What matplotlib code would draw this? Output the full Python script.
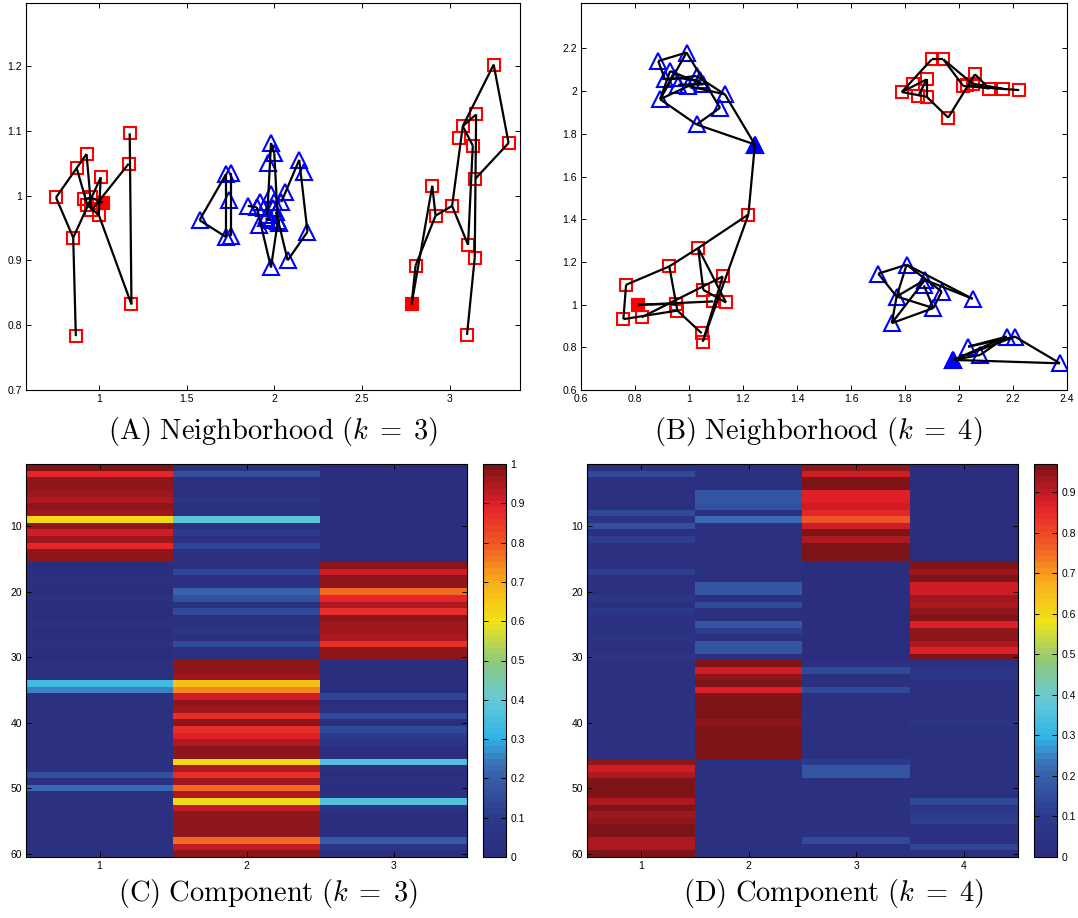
import matplotlib
matplotlib.use("Agg")
import matplotlib.pyplot as plt
import numpy as np
from matplotlib.colors import LinearSegmentedColormap, ListedColormap

plt.rcParams["mathtext.fontset"] = "cm"
plt.rcParams["font.family"] = ["Liberation Sans", "DejaVu Sans"]

#---------------------------
# Grafo de vizinhanca, k = 3
#---------------------------
a_esq_x = [0.756, 0.873, 0.930, 0.854, 0.869, 1.011, 1.176, 1.170, 1.186, 0.915,
           0.955, 0.958, 1.000, 1.023, 0.935]
a_esq_y = [0.997, 1.043, 1.064, 0.935, 0.783, 1.028, 1.096, 1.049, 0.832, 0.994,
           0.997, 0.977, 0.970, 0.989, 0.985]
a_centro_x = [1.574, 1.725, 1.754, 1.744, 1.725, 1.754, 1.849, 1.981, 1.962, 2.000,
              2.142, 2.170, 2.189, 2.076, 1.981, 2.063, 1.915, 2.028, 1.900, 1.920,
              1.980, 2.000, 1.960, 2.040, 2.020, 1.950, 1.980, 1.990, 1.940, 2.010]
a_centro_y = [0.962, 1.033, 1.034, 0.993, 0.936, 0.938, 0.984, 1.081, 1.050, 1.065,
              1.055, 1.037, 0.944, 0.900, 0.889, 1.006, 0.954, 0.957, 0.982, 0.990,
              1.003, 0.990, 0.970, 0.990, 0.960, 0.965, 0.962, 0.980, 0.980, 0.975]
a_dir_x = [3.250, 3.150, 3.074, 3.055, 3.131, 3.335, 3.146, 2.900, 3.013, 2.919,
           3.104, 3.142, 2.805, 2.782, 3.098]
a_dir_y = [1.202, 1.125, 1.107, 1.089, 1.077, 1.081, 1.026, 1.015, 0.984, 0.969,
           0.924, 0.904, 0.892, 0.832, 0.785]
a_arestas = [(4, 3), (3, 0), (0, 2), (2, 11), (1, 14), (14, 12), (3, 5), (5, 12),
             (12, 8), (8, 6), (11, 7), (9, 10), (10, 13),
             (15, 16), (15, 19), (16, 19), (17, 20), (21, 33), (33, 29), (29, 39),
             (37, 22), (22, 24), (24, 39), (38, 25), (25, 27), (27, 28), (28, 44),
             (40, 41), (32, 44),
             (58, 52), (58, 57), (57, 54), (54, 53), (53, 55), (53, 47), (47, 46),
             (46, 56), (56, 59), (47, 49), (49, 55), (45, 47), (45, 50), (50, 51),
             (52, 54)]
a_cheios = [13, 58]

#---------------------------
# Grafo de vizinhanca, k = 4
#---------------------------
b_azul1_x = [0.886, 0.991, 0.930, 0.911, 0.948, 1.028, 0.997, 1.053, 1.040, 1.133,
             1.115, 0.893, 1.028, 1.244, 0.960]
b_azul1_y = [2.141, 2.181, 2.094, 2.055, 2.063, 2.071, 2.024, 2.032, 2.050, 1.985,
             1.922, 1.962, 1.844, 1.750, 2.030]
b_verm1_x = [1.220, 1.034, 0.927, 0.767, 0.812, 0.757, 0.825, 0.952, 0.957, 1.053,
             1.125, 1.090, 1.137, 1.047, 1.051]
b_verm1_y = [1.422, 1.265, 1.179, 1.093, 0.999, 0.932, 0.941, 1.004, 0.972, 1.069,
             1.132, 1.015, 1.010, 0.866, 0.827]
b_verm2_x = [1.899, 1.942, 1.831, 1.880, 1.788, 1.849, 1.880, 1.960, 2.016, 2.059,
             2.050, 2.112, 2.162, 2.223, 2.030]
b_verm2_y = [2.149, 2.149, 2.032, 2.055, 1.996, 1.977, 1.974, 1.876, 2.024, 2.079,
             2.035, 2.012, 2.012, 2.005, 2.030]
b_azul2_x = [1.701, 1.806, 1.874, 1.936, 1.769, 1.905, 1.751, 2.051, 1.870, 1.979,
             2.034, 2.078, 2.177, 2.207, 2.374]
b_azul2_y = [1.145, 1.187, 1.116, 1.061, 1.038, 0.984, 0.913, 1.027, 1.090, 0.741,
             0.803, 0.764, 0.850, 0.850, 0.725]
b_arestas = [(0, 1), (0, 3), (1, 11), (11, 2), (2, 7), (11, 6), (6, 9), (1, 10),
             (9, 13), (11, 12), (12, 10), (12, 13), (3, 5), (5, 9), (4, 8), (14, 7),
             (13, 15),
             (15, 16), (16, 17), (17, 18), (15, 29), (16, 24), (16, 27), (17, 23),
             (23, 28), (18, 20), (20, 23), (19, 26), (21, 25), (25, 29), (24, 27),
             (19, 22),
             (30, 31), (30, 34), (34, 33), (34, 36), (33, 36), (35, 33), (31, 40),
             (31, 38), (36, 37), (37, 39), (38, 43), (39, 41), (40, 42), (44, 41),
             (45, 46), (45, 49), (46, 49), (46, 48), (46, 52), (49, 47), (49, 50),
             (51, 49), (51, 47), (51, 50), (50, 48), (47, 52), (53, 50),
             (54, 58), (54, 57), (54, 59), (55, 58), (58, 59), (54, 56), (56, 57),
             (55, 57)]
b_cheios = [13, 19, 54]

#---------------------------
# Pertinencia por componente (60 pontos)
#---------------------------
c_comp1 = [1.00, 0.89, 0.97, 0.97, 0.96, 0.94, 0.97, 0.96, 0.62, 0.97,
           0.92, 0.96, 0.88, 0.97, 0.97,
           0.01, 0.01, 0.02, 0.01, 0.01, 0.02, 0.01, 0.01, 0.01, 0.02,
           0.01, 0.01, 0.02, 0.01, 0.01,
           0.02, 0.02, 0.03, 0.33, 0.25, 0.03, 0.02, 0.02, 0.02, 0.02,
           0.03, 0.02, 0.02, 0.02, 0.02, 0.03, 0.02, 0.17, 0.02, 0.22,
           0.02, 0.02, 0.02, 0.02, 0.02, 0.02, 0.02, 0.02, 0.02, 0.02]
c_comp2 = [0.02, 0.17, 0.03, 0.03, 0.03, 0.07, 0.03, 0.03, 0.38, 0.03,
           0.10, 0.03, 0.13, 0.03, 0.02,
           0.02, 0.13, 0.02, 0.02, 0.21, 0.17, 0.03, 0.15, 0.03, 0.03,
           0.07, 0.03, 0.15, 0.03, 0.02,
           0.97, 0.97, 0.96, 0.66, 0.74, 0.92, 0.97, 0.96, 0.87, 0.97,
           0.87, 0.90, 0.95, 0.97, 0.97, 0.62, 0.95, 0.87, 0.96, 0.77,
           0.95, 0.62, 0.93, 0.97, 0.97, 0.97, 0.97, 0.78, 0.93, 0.97]
c_comp3 = [0.00, 0.01, 0.01, 0.01, 0.01, 0.01, 0.01, 0.01, 0.01, 0.01,
           0.01, 0.01, 0.01, 0.01, 0.01,
           0.98, 0.92, 0.97, 0.97, 0.78, 0.88, 0.95, 0.87, 0.97, 0.96,
           0.96, 0.94, 0.87, 0.97, 0.98,
           0.01, 0.01, 0.01, 0.01, 0.01, 0.13, 0.01, 0.02, 0.15, 0.01,
           0.15, 0.10, 0.06, 0.01, 0.01, 0.37, 0.03, 0.01, 0.02, 0.01,
           0.03, 0.37, 0.06, 0.01, 0.01, 0.01, 0.01, 0.20, 0.05, 0.01]

d_comp1 = [0.02, 0.15, 0.02, 0.02, 0.02, 0.02, 0.03, 0.15, 0.05, 0.16,
           0.03, 0.12, 0.02, 0.02, 0.02,
           0.02, 0.12, 0.02, 0.02, 0.03, 0.07, 0.03, 0.08, 0.03, 0.03,
           0.03, 0.06, 0.03, 0.03, 0.05,
           0.02, 0.02, 0.02, 0.02, 0.02, 0.02, 0.02, 0.02, 0.02, 0.02,
           0.02, 0.02, 0.02, 0.02, 0.02,
           0.95, 0.88, 0.92, 0.97, 0.96, 0.96, 0.91, 0.96, 0.93, 0.95,
           0.97, 0.96, 0.92, 0.92, 0.96]
d_comp2 = [0.02, 0.02, 0.02, 0.02, 0.18, 0.18, 0.16, 0.03, 0.22, 0.02,
           0.02, 0.02, 0.02, 0.02, 0.02,
           0.02, 0.02, 0.02, 0.18, 0.17, 0.03, 0.15, 0.03, 0.03, 0.18,
           0.12, 0.03, 0.18, 0.17, 0.02,
           0.96, 0.88, 0.95, 0.96, 0.87, 0.97, 0.97, 0.97, 0.97, 0.95,
           0.97, 0.97, 0.97, 0.97, 0.97,
           0.02, 0.02, 0.02, 0.02, 0.02, 0.02, 0.02, 0.02, 0.02, 0.02,
           0.02, 0.02, 0.02, 0.02, 0.02]
d_comp3 = [0.95, 0.88, 0.97, 0.97, 0.87, 0.87, 0.88, 0.86, 0.78, 0.88,
           0.96, 0.92, 0.97, 0.97, 0.97,
           0.01, 0.01, 0.01, 0.01, 0.01, 0.01, 0.01, 0.01, 0.01, 0.01,
           0.01, 0.01, 0.01, 0.01, 0.01,
           0.02, 0.15, 0.02, 0.02, 0.15, 0.02, 0.02, 0.02, 0.02, 0.02,
           0.02, 0.02, 0.02, 0.02, 0.02,
           0.10, 0.18, 0.17, 0.02, 0.02, 0.02, 0.02, 0.02, 0.02, 0.02,
           0.02, 0.02, 0.15, 0.02, 0.02]
d_comp4 = [0.00, 0.01, 0.01, 0.01, 0.01, 0.01, 0.01, 0.01, 0.01, 0.01,
           0.01, 0.01, 0.01, 0.01, 0.01,
           0.97, 0.93, 0.97, 0.88, 0.88, 0.93, 0.91, 0.95, 0.97, 0.87,
           0.95, 0.94, 0.91, 0.87, 0.96,
           0.03, 0.07, 0.07, 0.03, 0.03, 0.03, 0.03, 0.03, 0.03, 0.05,
           0.03, 0.03, 0.03, 0.03, 0.03,
           0.03, 0.03, 0.03, 0.03, 0.03, 0.03, 0.15, 0.05, 0.10, 0.12,
           0.03, 0.03, 0.03, 0.13, 0.03]

legendas = [r"$\mathrm{(A)\ Neighborhood\ (}k\;=\;3\mathrm{)}$",
            r"$\mathrm{(B)\ Neighborhood\ (}k\;=\;4\mathrm{)}$",
            r"$\mathrm{(C)\ Component\ (}k\;=\;3\mathrm{)}$",
            r"$\mathrm{(D)\ Component\ (}k\;=\;4\mathrm{)}$"]

# jet "impresso", um pouco apagado, com 64 niveis
ancoras = [(0.0, "#2b2e7e"), (0.1, "#2c3b8d"), (0.2, "#3760ab"), (0.25, "#3b7ec0"),
           (0.3, "#2fb4e6"), (0.4, "#68c9d6"), (0.5, "#8ec97a"), (0.6, "#f0e417"),
           (0.7, "#f9ae1a"), (0.8, "#f05a25"), (0.9, "#e4202a"), (1.0, "#7e1417")]
jet_suave = ListedColormap(
    LinearSegmentedColormap.from_list("jet_suave", ancoras)(np.linspace(0, 1, 64)))

L, A = 1078, 918


def ret(esq, topo, dir, base):
    """Converte uma caixa em pixels para coordenadas da figura."""
    return [esq / L, 1 - base / A, (dir - esq) / L, (base - topo) / A]


def estilo_eixo(ax):
    ax.tick_params(direction="in", top=True, right=True, length=3.5, width=0.7,
                   labelsize=7.5, pad=3)
    for lado in ax.spines.values():
        lado.set_linewidth(0.8)


def desenhar_vizinhanca(ax, grupos, arestas, cheios):
    """Pontos de cada grupo (quadrado vermelho / triangulo azul) e as arestas do grafo."""
    xs, ys, cores = [], [], []
    for gx, gy, cor in grupos:
        xs += gx
        ys += gy
        cores += [cor] * len(gx)
    xs = np.array(xs)
    ys = np.array(ys)
    cores = np.array(cores)

    for cor, marcador, tam in (("red", "s", 8.5), ("blue", "^", 11.0)):
        sel = cores == cor
        ax.plot(xs[sel], ys[sel], linestyle="none", marker=marcador, ms=tam,
                mfc="none", mec=cor, mew=1.5, zorder=2)
        cheio = [i for i in cheios if cores[i] == cor]
        ax.plot(xs[cheio], ys[cheio], linestyle="none", marker=marcador, ms=tam,
                mfc=cor, mec=cor, mew=1.5, zorder=2)

    for i, j in arestas:
        ax.plot([xs[i], xs[j]], [ys[i], ys[j]], color="black", lw=1.6,
                solid_capstyle="butt", zorder=3)


def desenhar_componentes(fig, caixa_mapa, caixa_barra, colunas):
    M = np.column_stack(colunas)
    ax = fig.add_axes(ret(*caixa_mapa))
    im = ax.imshow(M, cmap=jet_suave, aspect="auto", interpolation="nearest",
                   extent=(0.5, M.shape[1] + 0.5, M.shape[0] + 0.5, 0.5),
                   vmin=M.min(), vmax=M.max())
    ax.set_xticks(range(1, M.shape[1] + 1))
    ax.set_yticks([10, 20, 30, 40, 50, 60])
    estilo_eixo(ax)

    cax = fig.add_axes(ret(*caixa_barra))
    barra = fig.colorbar(im, cax=cax)
    marcas = np.round(np.arange(0, 1.01, 0.1), 1)
    barra.set_ticks(marcas[marcas <= M.max() + 1e-9])
    barra.ax.yaxis.set_major_formatter(plt.FuncFormatter(lambda v, p: f"{v:g}"))
    barra.outline.set_linewidth(0.8)
    cax.tick_params(direction="in", left=True, right=True, length=3.5, width=0.7,
                    labelsize=7.5, pad=3)
    return ax


fig = plt.figure(figsize=(L / 100, A / 100), dpi=100)

ax_a = fig.add_axes(ret(26, 3, 520, 390))
desenhar_vizinhanca(ax_a, [(a_esq_x, a_esq_y, "red"), (a_centro_x, a_centro_y, "blue"),
                           (a_dir_x, a_dir_y, "red")], a_arestas, a_cheios)
ax_a.set_xlim(0.585, 3.4)
ax_a.set_ylim(0.7, 1.297)
ax_a.set_xticks([1, 1.5, 2, 2.5, 3])
ax_a.set_xticklabels(["1", "1.5", "2", "2.5", "3"])
ax_a.set_yticks([0.7, 0.8, 0.9, 1.0, 1.1, 1.2])
ax_a.set_yticklabels(["0.7", "0.8", "0.9", "1", "1.1", "1.2"])
estilo_eixo(ax_a)

ax_b = fig.add_axes(ret(581, 3, 1067, 390))
desenhar_vizinhanca(ax_b, [(b_azul1_x, b_azul1_y, "blue"), (b_verm1_x, b_verm1_y, "red"),
                           (b_verm2_x, b_verm2_y, "red"), (b_azul2_x, b_azul2_y, "blue")],
                    b_arestas, b_cheios)
ax_b.set_xlim(0.6, 2.4)
ax_b.set_ylim(0.6, 2.413)
ax_b.set_xticks([0.6, 0.8, 1, 1.2, 1.4, 1.6, 1.8, 2, 2.2, 2.4])
ax_b.set_xticklabels(["0.6", "0.8", "1", "1.2", "1.4", "1.6", "1.8", "2", "2.2", "2.4"])
ax_b.set_yticks([0.6, 0.8, 1, 1.2, 1.4, 1.6, 1.8, 2, 2.2])
ax_b.set_yticklabels(["0.6", "0.8", "1", "1.2", "1.4", "1.6", "1.8", "2", "2.2"])
estilo_eixo(ax_b)

desenhar_componentes(fig, (26, 464, 467, 857), (483, 464, 506, 857),
                     [c_comp1, c_comp2, c_comp3])
desenhar_componentes(fig, (587, 464, 1018, 857), (1034, 464, 1057, 857),
                     [d_comp1, d_comp2, d_comp3, d_comp4])

for texto, (cx, cy) in zip(legendas, [(273, 432), (818, 432), (268, 893), (833, 893)]):
    fig.text(cx / L, 1 - cy / A, texto, ha="center", va="center", fontsize=20.5)

fig.savefig("out.png", dpi=100)
